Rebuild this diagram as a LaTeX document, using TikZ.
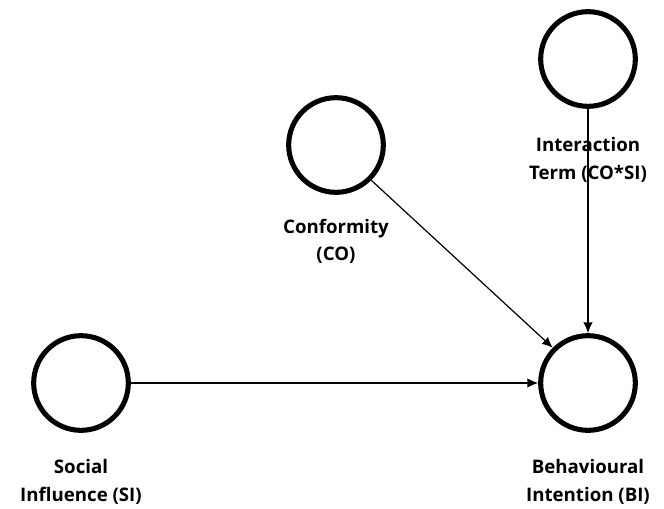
\documentclass[tikz,border=0pt]{standalone}
\usepackage{fontspec}
\setmainfont{Open Sans}
\usepackage{tikz}
\usetikzlibrary{positioning, arrows.meta}

\begin{document}
\begin{tikzpicture}[
						x=0.75pt, y=-0.75pt, % pixel grid of the drawing
						construct/.style={draw, circle, line width=3.8pt, minimum size=71pt, inner sep=0pt},
						label text/.style={font=\fontsize{14}{20.5}\selectfont\bfseries, align=center},
						path/.style={draw, line width=0.9pt, -{Latex[length=8pt,width=7pt]}}
				]
    \useasboundingbox (0,0) rectangle (664,508);

    % Constructs
    \node[construct] (SI) at (81,383) {};
    \node[construct] (BI) at (588,383) {};
    \node[construct] (CO) at (336,145) {};
    \node[construct] (INT) at (588,59) {};

    % Paths
    \draw[path] (SI) -- (BI);
    \draw[path] (CO.-45) -- (BI.135);
    \draw[path] (INT) -- (BI);

    % Labels
    \node[label text] (SIlabel) at (81,482) {Social\\Influence (SI)};
    \node[label text] (BIlabel) at (588,482) {Behavioural\\Intention (BI)};
    \node[label text] (COlabel) at (336,241) {Conformity\\(CO)};
    \node[label text] (INTlabel) at (588,160) {Interaction\\Term (CO*SI)};

  \end{tikzpicture}
\end{document}
